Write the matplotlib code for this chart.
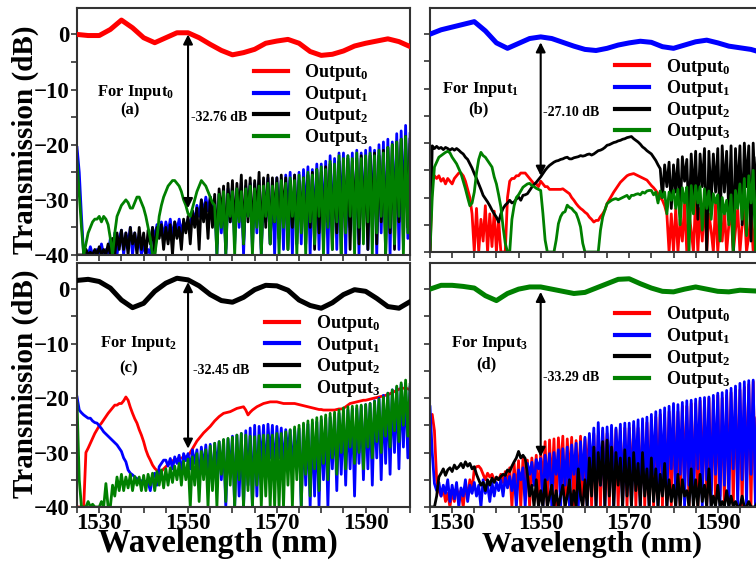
import numpy as np
import matplotlib
matplotlib.use("Agg")
import matplotlib.pyplot as plt
from matplotlib.ticker import MultipleLocator

plt.rcParams['font.family'] = ['Liberation Serif', 'DejaVu Serif']
plt.rcParams['font.weight'] = 'bold'
plt.rcParams['mathtext.fontset'] = 'custom'
plt.rcParams['mathtext.rm'] = 'Liberation Serif:bold'
plt.rcParams['mathtext.it'] = 'Liberation Serif:bold'
plt.rcParams['mathtext.bf'] = 'Liberation Serif:bold'

# wavelength sampling (nm)
wl_top = np.arange(1525, 1600.01, 2.5)   # through-port curves
wl = np.arange(1525, 1600.01, 0.5)       # crosstalk curves

colors = ['#ff0000', '#0000ff', '#000000', '#008000']
labels = ['Output$_{0}$', 'Output$_{1}$', 'Output$_{2}$', 'Output$_{3}$']

# ---- (a) input 0 ----
a_out0 = [0.0, -0.2, -0.2, 0.9, 2.6, 1.2, -0.6, -1.5, -0.6, 0.3, 0.3, -0.6, -1.8, -2.9, -3.7, -3.3,
          -2.7, -1.6, -1.2, -0.9, -1.6, -3.1, -3.8, -3.6, -3.0, -2.1, -1.6, -1.2, -0.8, -1.3, -2.2]
a_out1 = [-20.5, -25, -33, -40, -39, -40, -38.5, -40, -40, -39,
          -40, -38, -40, -39, -40, -37, -40, -36, -40, -37,
          -35.5, -40, -36, -38, -35, -40, -36, -39, -37, -40,
          -38, -40, -39, -40, -35, -37, -34.5, -36, -34, -37,
          -34, -36, -33.5, -37, -34, -35.5, -33.5, -36, -34, -35,
          -33.5, -35, -32, -34, -31, -33, -30, -32.5, -29.5, -32,
          -29.5, -33, -30, -40, -29, -36, -28.5, -40, -28, -34,
          -27.5, -38, -28, -35, -27, -40, -27.5, -33, -27, -39,
          -27, -36, -26.5, -40, -27, -34, -26, -38, -26.5, -40,
          -26, -35, -26.5, -39, -25.5, -33, -25, -40, -25.5, -36,
          -25, -38, -24.5, -33, -24, -40, -24.5, -35, -23.5, -39,
          -23.5, -34, -23, -40, -22, -36, -22.5, -39, -21.5, -33,
          -21.5, -40, -22, -35, -21.5, -38, -21, -40, -21.5, -34,
          -21, -39, -20.5, -33, -21, -40, -20, -36, -19.5, -38,
          -19, -40, -19.5, -34, -18, -39, -17.5, -33, -16.5, -37,
          -18]
a_out2 = [-40, -40, -40, -40, -39, -40, -39.5, -40, -39, -40,
          -38.5, -40, -39, -40, -38, -40, -37, -40, -36, -39,
          -35.5, -39, -36, -40, -35, -38, -36, -40, -35, -39,
          -36, -40, -35.5, -38, -35, -40, -35, -37, -34.5, -39,
          -35, -38, -34.5, -40, -34, -37, -35, -39, -33.5, -36,
          -33, -38, -32, -35, -31.5, -39, -30, -34, -30.5, -37,
          -29.5, -35, -29, -38, -28, -33, -27.5, -39, -27, -34,
          -26.5, -36, -27, -33, -25.5, -38, -26.5, -34, -26, -37,
          -26.5, -33, -25, -39, -26, -35, -25.5, -38, -26, -34,
          -26, -37, -25.5, -33, -26, -39, -26.5, -35, -25.5, -38,
          -26.5, -34, -26, -38, -25.5, -35, -25, -39, -24.5, -36,
          -25, -38, -24, -34, -23.5, -39, -24, -36, -23, -40,
          -23, -35, -22.5, -39, -23, -34, -22.5, -38, -22, -36,
          -22.5, -39, -22, -35, -21.5, -38, -22, -34, -21, -40,
          -20.5, -36, -20, -39, -19.5, -34, -19, -38, -18.5, -35,
          -19]
a_out3 = [-23, -29, -35, -40, -38, -36, -35, -34, -33.5, -33.5,
          -33, -34, -33, -33.5, -34.5, -37, -40, -36, -33, -32,
          -31, -30.5, -30, -30.5, -31.5, -31.5, -30.5, -29.5, -29.5, -30.5,
          -31.5, -33, -35, -37, -40, -40, -37, -33, -31, -29.5,
          -28.5, -27.5, -27, -26.5, -26.5, -27, -27.5, -28.5, -30, -31,
          -32.5, -33, -31.5, -30, -28.5, -27.5, -26.5, -27, -27.5, -28.5,
          -29.5, -30.5, -31, -40, -29, -35, -28.5, -40, -29, -33,
          -28.5, -40, -28, -34, -28.5, -38, -28, -33, -27.5, -40,
          -28, -35, -27.5, -40, -27.5, -33, -27, -38, -27.5, -34,
          -27, -40, -26.5, -35, -27, -39, -26, -33, -26.5, -40,
          -25.5, -36, -26, -40, -25, -34, -25.5, -38, -24.5, -33,
          -24, -40, -24.5, -35, -23, -39, -23.5, -34, -22, -40,
          -22.5, -36, -22, -33, -22.5, -40, -21.5, -35, -22.5, -38,
          -22, -34, -21.5, -40, -22, -36, -21, -33, -21.5, -40,
          -20.5, -35, -20, -38, -19.5, -33, -19, -40, -18.5, -36,
          -20]

# ---- (b) input 1 ----
b_out0 = [-40, -27, -26, -26.5, -26, -27, -26.5, -27.5, -26.5, -27,
          -27.5, -26.5, -26, -25.5, -25.5, -26, -27, -28.5, -30, -33,
          -40, -32, -40, -34, -38, -31.5, -40, -33, -39, -32.5,
          -40, -34, -40, -40, -40, -30, -27, -26.5, -26.5, -26,
          -26, -25.5, -25.5, -25.5, -26, -26.5, -27, -27.5, -27.5, -28,
          -27, -27.5, -28, -28, -28.5, -28.5, -28.5, -28.5, -28.5, -28.5,
          -28.4, -28.7, -29, -29.3, -30, -30.5, -31.1, -31.6, -32, -32.3,
          -32.7, -33, -33.6, -34, -34.5, -34.2, -34.2, -33.5, -33, -32.3,
          -31.1, -30.4, -29.7, -29, -28.4, -27.8, -27.2, -26.8, -26.4, -26,
          -25.8, -25.7, -25.6, -25.8, -26, -26.2, -26.4, -26.6, -26.8, -27.3,
          -27.8, -28.2, -28.7, -29.3, -30, -30.5, -31.5, -33, -40, -33,
          -40, -32, -40, -34, -38, -31, -40, -33, -36, -40,
          -30, -40, -32, -38, -29.5, -40, -33, -36, -40, -31,
          -40, -34, -38, -32, -40, -35, -33, -40, -36, -32,
          -40, -35, -32, -40, -37, -33, -40, -34, -38, -40,
          -36]
b_out1 = [0.0, 0.8, 1.3, 1.8, 2.3, 0.6, -1.6, -2.6, -1.7, -0.8, -0.5, -0.8, -1.5, -2.2, -2.8, -3.0,
          -2.6, -2.0, -1.6, -1.3, -1.5, -2.3, -2.6, -2.0, -1.4, -1.1, -1.6, -2.2, -2.5, -2.8, -3.4]
b_out2 = [-40, -20.5, -21, -20.6, -21, -20.8, -21.2, -20.8, -21, -21.3,
          -21, -21.3, -21, -21.3, -21.7, -22, -22.6, -23, -23.8, -24.6,
          -25.6, -26.5, -27.5, -28.5, -29.6, -30.2, -30.8, -31.5, -32.3, -33,
          -33.6, -34.5, -33, -32, -31.4, -31, -30.5, -31, -30.8, -30.3,
          -29.9, -30.5, -29.6, -29.5, -29.3, -28.7, -28.1, -27.6, -27.2, -26.7,
          -26.2, -25.6, -25, -24.5, -24.1, -23.8, -23.5, -23.3, -23.2, -23,
          -22.9, -22.7, -22.6, -22.9, -22.9, -22.7, -22.6, -22.5, -22.3, -22.4,
          -22.3, -22.1, -22, -22.2, -22, -21.7, -21.4, -21.3, -21.1, -20.8,
          -20.4, -20.3, -20.1, -19.9, -19.8, -19.6, -19.5, -19.3, -19.2, -19,
          -18.9, -18.8, -19.2, -19.5, -19.8, -20.2, -20.7, -21, -21.4, -21.7,
          -22, -22.6, -23.2, -24, -24.7, -30, -24, -28, -23.5, -32,
          -24, -29, -23, -33, -22.5, -27, -23, -35, -22, -30,
          -21.5, -34, -22, -28, -21, -40, -21.5, -31, -22, -29,
          -21, -36, -20.5, -29, -21.5, -33, -20.5, -40, -21, -30,
          -20.5, -35, -20, -28, -20.5, -38, -20, -31, -19.5, -34,
          -20]
b_out3 = [-40, -30, -24.4, -23.5, -22.6, -22.3, -22, -21.7, -21.5, -21.8,
          -22.6, -23.2, -23.8, -24.7, -25.6, -27, -28.4, -30, -31.5, -31,
          -29, -25.5, -23, -21.7, -22.3, -22.6, -23.2, -23.8, -24.4, -26.2,
          -27.5, -29.5, -31.7, -35.4, -38.4, -40, -40, -34, -31.5, -30,
          -29.5, -28.8, -28.1, -27.8, -27.5, -27.4, -27.8, -28, -28.3, -28.5,
          -28.7, -32.9, -37.8, -40, -40, -40, -40, -37.8, -34.8, -33.5,
          -32.8, -32.6, -31.4, -31.8, -32, -32.5, -32.9, -34, -35.4, -38.4,
          -40, -40, -40, -40, -40, -40, -40, -36, -33.6, -32.3,
          -31.1, -30.8, -30.5, -30.3, -30.2, -30.4, -30.2, -30, -29.8, -29.6,
          -30.2, -29.6, -29.6, -29.4, -29.3, -29.5, -29, -29.2, -28.8, -28.7,
          -28.7, -29.5, -29, -31, -28.8, -30, -29, -33, -29, -30.5,
          -28.7, -32, -28.5, -35, -28.2, -31, -28.1, -40, -27.8, -33,
          -27.8, -31, -28, -36, -28.4, -32, -28.8, -34, -29.3, -31,
          -29.5, -38, -30, -33, -30.5, -35, -29.5, -40, -28.7, -32,
          -27.5, -34, -26.5, -37, -26, -31, -25, -40, -24.5, -33,
          -26]

# ---- (c) input 2 ----
c_out0 = [-40, -40, -40, -40, -30, -29.2, -28.3, -27.4, -26.5, -25.8,
          -25.1, -24.6, -24, -23.4, -22.8, -22.3, -21.8, -21.3, -21.3, -21,
          -21, -20.5, -19.8, -20.4, -21.7, -22.8, -23.8, -24.6, -25.8, -26.8,
          -28, -29.5, -30.6, -31.4, -32.3, -32.9, -33.3, -34.5, -33.5, -33,
          -32.6, -32.2, -31.7, -31.5, -31.4, -31.3, -31.1, -31, -30.9, -30.8,
          -30.6, -30, -29.3, -28.6, -27.9, -27.4, -26.9, -26.4, -26, -25.6,
          -25.2, -24.7, -24.2, -23.8, -23.4, -23.1, -22.8, -22.7, -22.6, -22.5,
          -22.3, -22.1, -21.9, -21.8, -21.7, -21.6, -22.2, -23.1, -22.6, -22.2,
          -21.9, -21.6, -21.4, -21.2, -21, -20.9, -20.8, -20.7, -20.7, -20.7,
          -20.7, -20.8, -20.9, -21, -21, -21, -21, -21, -21, -21.1,
          -21.2, -21.3, -21.4, -21.5, -21.6, -21.7, -21.8, -21.9, -22, -22.1,
          -22.1, -22.2, -22.2, -22.2, -22.2, -22.2, -22.2, -22.1, -22, -22,
          -21.9, -21.6, -21.3, -21, -20.9, -20.8, -20.7, -20.6, -20.5, -20.4,
          -20.4, -20.3, -20.2, -20.1, -20, -19.9, -19.8, -19.7, -19.6, -19.5,
          -19.4, -19.2, -19, -18.8, -18.6, -18.4, -18.2, -18.2, -18.2, -18.3,
          -18.5]
c_out1 = [-19.8, -22.2, -22.7, -23.1, -23.4, -23.7, -23.7, -24.2, -24.5, -24.6,
          -25.1, -25.6, -26.2, -26.6, -27, -27.4, -27.8, -28.2, -28.6, -29.2,
          -29.8, -31, -31.7, -33.2, -33.8, -34.1, -34.5, -34.8, -35, -35.2,
          -35.3, -35.3, -35.5, -37, -34.4, -33.8, -36, -32.6, -32, -31.4,
          -31.4, -32.5, -31.1, -33, -30.8, -32, -30.5, -34, -30.2, -31.5,
          -30.2, -33, -29.5, -32, -29.5, -35, -29, -33, -28.6, -34,
          -28.5, -36, -28.3, -33, -28, -35, -27.7, -40, -27.5, -34,
          -27, -40, -26.8, -38, -26.5, -40, -26, -36, -25.5, -40,
          -25, -38, -25.2, -33, -25, -35, -24.8, -31, -25, -34,
          -25.2, -31, -25.5, -33, -25.8, -30, -25.9, -34, -25.7, -32,
          -25.6, -40, -25, -36, -24.8, -40, -24.6, -38, -24.4, -40,
          -24, -35, -23.7, -40, -23.5, -33, -23, -37, -22.8, -34,
          -22.5, -36, -22.2, -33, -22, -38, -21.9, -32, -21.5, -35,
          -21.2, -33, -21, -36, -20.5, -31, -20, -35, -19.5, -32,
          -19.1, -34, -18.5, -30, -18, -33, -17.5, -29, -17.3, -31,
          -18]
c_out2 = [1.6, 1.8, 1.4, 0.2, -2.0, -3.4, -2.6, -0.4, 1.1, 2.0, 1.7, 0.6, -1.0, -2.1, -2.4, -1.5,
          -0.1, 0.7, 0.6, -0.2, -2.0, -3.0, -3.5, -2.5, -1.0, -0.1, -0.4, -1.7, -3.2, -3.5, -2.3]
c_out3 = [-21, -35, -40, -40, -40, -39, -40, -39.5, -40, -40,
          -40, -39, -40, -35.7, -40, -40, -36, -38, -34.5, -37,
          -34, -37, -34.5, -36.5, -34, -37, -34.4, -36, -34.5, -37,
          -34.2, -37, -34, -36, -33.8, -37, -33.5, -36, -33.2, -36.5,
          -33, -36, -32.8, -35.5, -32.5, -35, -32, -36, -31.6, -35,
          -31.2, -40, -30.8, -36, -30.2, -39, -29.8, -35, -29.5, -40,
          -28.8, -37, -28.3, -40, -28, -34, -27.6, -39, -27.4, -36,
          -27.2, -40, -26.8, -35, -26.5, -40, -26.8, -37, -27, -40,
          -27.1, -36, -26.9, -40, -26.8, -38, -26.8, -40, -26.8, -40,
          -26.5, -40, -26.5, -40, -26.2, -36, -25.8, -40, -25.3, -35,
          -25, -40, -24.6, -34, -24.2, -38, -24, -33, -23.6, -37,
          -23.4, -32, -23.1, -35, -22.8, -31, -22.6, -34, -22.2, -30,
          -21.8, -33, -21.6, -29, -21.5, -32, -21.4, -30, -21.3, -33,
          -21.2, -29, -21, -31, -20.6, -28, -20.2, -30, -19.8, -27,
          -19.1, -29, -18.5, -26, -17.8, -28, -17.2, -25, -16.7, -27,
          -17.5]

# ---- (d) input 3 ----
d_out0 = [-24, -23, -26, -35, -37, -38, -36.5, -39, -37.5, -40,
          -37, -39, -36.5, -38, -37, -40, -36, -38, -35, -37,
          -33, -32.6, -32.5, -33, -34, -35, -33.8, -34.5, -34, -35,
          -34.8, -35, -34, -35.5, -33.5, -36, -32.8, -40, -32, -38,
          -31.5, -40, -31, -38, -31.4, -40, -31, -36, -30.5, -40,
          -30, -36, -28, -40, -27.7, -37, -27.5, -40, -27.3, -34,
          -27, -40, -27.5, -35, -27.2, -40, -27.8, -36, -27, -40,
          -27.5, -33, -27, -40, -26.5, -38, -26.8, -40, -26, -36,
          -26.5, -40, -26, -37, -25.8, -40, -26.2, -38, -25.5, -40,
          -25.5, -36, -25, -40, -25.5, -38, -24.8, -40, -24.5, -37,
          -24, -40, -23.5, -36, -23, -40, -23.5, -38, -22.5, -40,
          -22, -37, -22.5, -40, -21.5, -35, -21.5, -40, -21, -38,
          -21, -40, -20.5, -36, -20.5, -40, -20, -37, -20.5, -40,
          -19.5, -38, -20, -40, -19.5, -35, -19, -40, -18.5, -37,
          -18.5, -40, -18, -36, -17.5, -40, -17, -38, -18, -40,
          -19]
d_out1 = [-21.6, -30, -35.7, -37, -35.5, -38, -36, -37.5, -35, -39,
          -36, -38.5, -35.5, -40, -36.5, -38, -35, -39, -36, -37.5,
          -35.5, -38, -36, -40, -35, -37.5, -36, -39, -35.5, -38,
          -35.5, -37, -35, -38, -34.5, -36.5, -34.4, -37, -34, -40,
          -33.2, -35, -32.8, -40, -32, -34, -31.8, -36, -31.3, -33,
          -31.1, -40, -30.5, -35, -30.2, -40, -30, -34, -29.5, -40,
          -29.3, -36, -29, -40, -28.6, -34, -28.3, -40, -28, -35,
          -27.2, -40, -26.5, -34, -25.5, -40, -24.5, -36, -25.5, -40,
          -25.3, -35, -25, -40, -25.5, -33, -24.8, -40, -24.6, -36,
          -24.6, -40, -24.3, -34, -24, -40, -23.8, -37, -23.5, -40,
          -23, -34, -22.5, -40, -22.2, -35, -21.8, -40, -21.5, -33,
          -21, -40, -21.2, -34, -20.8, -40, -20.5, -36, -20.4, -40,
          -20.2, -33, -20, -40, -19.9, -35, -19.8, -40, -19.5, -34,
          -19.1, -40, -19, -36, -18.6, -40, -18.2, -33, -17.8, -40,
          -17.3, -35, -17, -40, -16.8, -34, -16.7, -40, -17.5, -36,
          -18]
d_out2 = [-40, -40, -40, -38, -34.5, -33.8, -33, -34.2, -33.2, -32.8,
          -33.5, -32.3, -33, -32.6, -32, -32.8, -31.7, -32.5, -32, -33,
          -32.6, -34, -35, -36, -35.5, -37, -35, -36, -34.7, -35.5,
          -34.5, -35, -34.4, -34, -34.2, -33.2, -33.5, -32.5, -31.7, -31,
          -29.8, -31, -30.5, -31.1, -34, -38, -36, -40, -35, -40,
          -37, -40, -35, -40, -38, -36, -40, -37, -40, -38,
          -36, -40, -38, -35, -40, -37, -40, -33, -38, -40,
          -35, -40, -31, -38, -29, -40, -30, -36, -28, -40,
          -27.7, -38, -29, -40, -30, -36, -31, -40, -29.5, -38,
          -31, -40, -30, -37, -32, -40, -30, -38, -33, -40,
          -31, -39, -33, -40, -34, -38, -32, -40, -35, -39,
          -36, -40, -34, -40, -35, -38, -37, -40, -33, -40,
          -35, -40, -34, -39, -36, -40, -33, -40, -38, -40,
          -36, -40, -39, -40, -37, -40, -38, -40, -39, -40,
          -40, -38, -40, -40, -39, -40, -40, -40, -39, -40,
          -40]
d_out3 = [0.0, 0.7, 0.7, 0.5, 0.2, -1.2, -2.1, -0.8, 0.0, 0.4, 0.4, 0.0, -0.4, -0.8, -0.6, 0.2,
          1.0, 1.8, 1.9, 1.0, 0.2, -0.4, -0.5, 0.0, 0.4, 0.0, -0.4, -0.5, -0.2, -0.3, -0.4]

panels = [
    # curves, through port, input no., letter, dB text, arrow ends, legend anchor, text spots, axes rect
    dict(data=[a_out0, a_out1, a_out2, a_out3], top=0, inp=0, letter='(a)', db='-32.76 dB',
         arrow=(0.0, -31.5), dbpos=(1550.6, -15.0), leg=(0.53, 0.78),
         inpos=(0.177, 0.658), letpos=(0.16, 0.585), rect=[0.1019, 0.5455, 0.4405, 0.4403]),
    dict(data=[b_out0, b_out1, b_out2, b_out3], top=1, inp=1, letter='(b)', db='-27.10 dB',
         arrow=(-1.5, -26.0), dbpos=(1550.6, -14.4), leg=(0.557, 0.80),
         inpos=(0.151, 0.668), letpos=(0.145, 0.585), rect=[0.5688, 0.5508, 0.4392, 0.4349]),
    dict(data=[c_out0, c_out1, c_out2, c_out3], top=2, inp=2, letter='(c)', db='-32.45 dB',
         arrow=(1.3, -29.3), dbpos=(1551.2, -14.9), leg=(0.565, 0.795),
         inpos=(0.186, 0.668), letpos=(0.156, 0.57), rect=[0.1019, 0.0963, 0.4405, 0.4349]),
    dict(data=[d_out0, d_out1, d_out2, d_out3], top=3, inp=3, letter='(d)', db='-33.29 dB',
         arrow=(-0.5, -30.8), dbpos=(1550.6, -16.3), leg=(0.557, 0.83),
         inpos=(0.18, 0.668), letpos=(0.169, 0.585), rect=[0.5688, 0.0963, 0.4392, 0.4349]),
]

fig = plt.figure(figsize=(7.56, 5.61), dpi=100)

for k, p in enumerate(panels):
    ax = fig.add_axes(p['rect'])
    for i, y in enumerate(p['data']):
        if i == p['top']:
            ax.plot(wl_top, y, color=colors[i], lw=3.6, label=labels[i], zorder=3)
        else:
            ax.plot(wl, y, color=colors[i], lw=2.0, label=labels[i], zorder=2)
    ax.set_xlim(1525, 1600)
    ax.set_ylim(-40, 4.8)
    ax.xaxis.set_minor_locator(MultipleLocator(5))
    ax.set_xticks([1530, 1550, 1570, 1590])
    ax.yaxis.set_major_locator(MultipleLocator(10))
    ax.yaxis.set_minor_locator(MultipleLocator(5))
    ax.tick_params(which='both', direction='out', length=4, width=1.2, color='#333333',
                   labelsize=16.5, pad=1.5, top=False, right=False)
    ax.tick_params(axis='x', pad=0.5)
    ax.tick_params(labelleft=(k % 2 == 0), labelbottom=(k >= 2))
    for s in ax.spines.values():
        s.set_color('#333333')
        s.set_linewidth(1.5)

    # double arrow at 1550 nm
    ax.annotate('', xy=(1550, p['arrow'][1]), xytext=(1550, p['arrow'][0]),
                arrowprops=dict(arrowstyle='<|-|>', color='k', lw=1.5, mutation_scale=14,
                                shrinkA=0, shrinkB=0), zorder=5)
    ax.text(p['dbpos'][0], p['dbpos'][1], p['db'], fontsize=10, ha='left', va='center', zorder=6)
    ax.text(p['inpos'][0], p['inpos'][1], 'For Input$_{%d}$' % p['inp'], fontsize=12,
            ha='center', va='center', transform=ax.transAxes)
    ax.text(p['letpos'][0], p['letpos'][1], p['letter'], fontsize=12,
            ha='center', va='center', transform=ax.transAxes)

    leg = ax.legend(loc='upper left', bbox_to_anchor=p['leg'], frameon=False, fontsize=13,
                    handlelength=1.9, handletextpad=0.9, labelspacing=0.03,
                    borderpad=0, borderaxespad=0)
    for h in leg.get_lines():
        h.set_linewidth(3)

# axis titles
fig.text(25 / 756, 1 - 140 / 561, 'Transmission (dB)', rotation=90, fontsize=21,
         ha='center', va='center')
fig.text(25 / 756, 1 - 384 / 561, 'Transmission (dB)', rotation=90, fontsize=21,
         ha='center', va='center')
fig.text(218 / 756, 1 - 552 / 561, 'Wavelength (nm)', fontsize=23.5, ha='center', va='baseline')
fig.text(592 / 756, 1 - 552 / 561, 'Wavelength (nm)', fontsize=21.5, ha='center', va='baseline')

plt.savefig('out.png', dpi=100)
